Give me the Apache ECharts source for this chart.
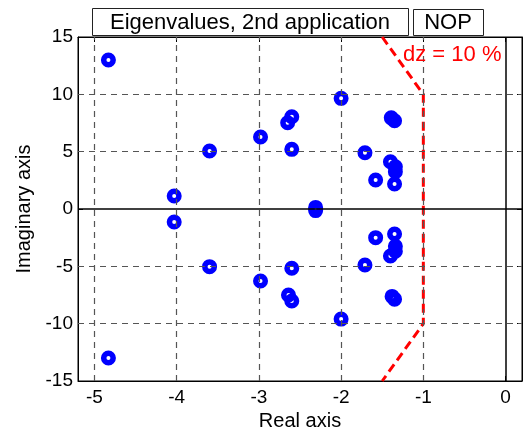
<!DOCTYPE html>
<html>
<head>
<meta charset="utf-8">
<script src="https://cdn.jsdelivr.net/npm/echarts@6/dist/echarts.min.js"></script>
<style>
html,body{margin:0;padding:0;background:#fff;}
#c{width:524px;height:428px;}
</style>
</head>
<body>
<div id="c"></div>
<script>
// Eigenvalues (real part, imaginary part)
const eigReal = [-4.83, -4.03, -3.60, -2.98, -2.60, -2.65, -2.60, -2.00, -1.39, -1.35, -1.71, -1.40, -1.34, -1.34, -1.35, -1.58, -2.31,
                 -4.83, -4.03, -3.60, -2.98, -2.60, -2.64, -2.60, -2.00, -1.38, -1.35, -1.71, -1.40, -1.34, -1.34, -1.35, -1.58, -2.31];
const eigImag = [13.0, 1.13, 5.06, 6.28, 8.05, 7.52, 5.20, 9.65, 7.95, 7.70, 4.91, 4.12, 3.69, 3.25, 2.18, 2.53, 0.14,
                 -13.0, -1.13, -5.03, -6.28, -5.17, -7.50, -8.02, -9.60, -7.62, -7.86, -4.88, -4.10, -3.68, -3.25, -2.18, -2.50, -0.14];
// 10 % damping boundary
const dzReal = [-1.5, -1, -1, -1.5];
const dzImag = [15, 10, -10, -15];
// ticks
const xTicks = [-5, -4, -3, -2, -1, 0];
const yTicks = [-15, -10, -5, 0, 5, 10, 15];

const FONT = '"Liberation Sans", Arial, sans-serif';
const chart = echarts.init(document.getElementById('c'), null, {renderer: 'canvas'});

const gridLines = [];
xTicks.forEach(v => { if (v !== 0) gridLines.push({xAxis: v}); });
yTicks.forEach(v => { if (v !== 0 && Math.abs(v) !== 15) gridLines.push({yAxis: v}); });

chart.setOption({
  animation: false,
  backgroundColor: '#fff',
  grid: {left: 78, right: 2, top: 37, bottom: 47, show: true, borderColor: '#000', borderWidth: 1,
         backgroundColor: 'transparent', containLabel: false, outerBoundsMode: 'none'},
  xAxis: [{
    type: 'value', min: -5.2, max: 0.2,
    name: 'Real axis', nameLocation: 'middle', nameGap: 28,
    nameTextStyle: {fontFamily: FONT, fontSize: 20, color: '#000'},
    axisLine: {show: true, onZero: false, lineStyle: {color: '#000'}},
    axisTick: {show: true, inside: true, length: 5, customValues: xTicks, lineStyle: {color: '#000'}},
    axisLabel: {customValues: xTicks, fontFamily: FONT, fontSize: 19, color: '#000', margin: 7},
    splitLine: {show: false}
  }, {
    type: 'value', min: -5.2, max: 0.2, position: 'top',
    axisLine: {show: true, onZero: false, lineStyle: {color: '#000'}},
    axisTick: {show: true, inside: true, length: 5, customValues: xTicks, lineStyle: {color: '#000'}},
    axisLabel: {show: false}, splitLine: {show: false}
  }],
  yAxis: [{
    type: 'value', min: -15, max: 15, interval: 5,
    name: 'Imaginary axis', nameLocation: 'middle', nameGap: 44,
    nameTextStyle: {fontFamily: FONT, fontSize: 20, color: '#000'},
    axisLine: {show: true, onZero: false, lineStyle: {color: '#000'}},
    axisTick: {show: true, inside: true, length: 5, lineStyle: {color: '#000'}},
    axisLabel: {fontFamily: FONT, fontSize: 19, color: '#000', margin: 5},
    splitLine: {show: false}
  }, {
    type: 'value', min: -15, max: 15, interval: 5, position: 'right',
    axisLine: {show: true, onZero: false, lineStyle: {color: '#000'}},
    axisTick: {show: true, inside: true, length: 5, lineStyle: {color: '#000'}},
    axisLabel: {show: false}, splitLine: {show: false}
  }],
  series: [
    {
      type: 'line', data: [], silent: true, z: 1,
      markLine: {
        silent: true, symbol: 'none', label: {show: false}, animation: false,
        lineStyle: {color: '#555', type: [6, 5], width: 1.2},
        emphasis: {disabled: true},
        data: gridLines
      }
    },
    {
      type: 'line', data: [], silent: true, z: 2,
      markLine: {
        silent: true, symbol: 'none', label: {show: false}, animation: false,
        lineStyle: {color: '#000', type: 'solid', width: 1.5},
        emphasis: {disabled: true},
        data: [{xAxis: 0}, {yAxis: 0}]
      }
    },
    {
      type: 'line', z: 3, silent: true,
      data: dzReal.map((x, i) => [x, dzImag[i]]),
      showSymbol: false, symbol: 'none',
      lineStyle: {color: '#ff0000', width: 3, type: [9, 5]}
    },
    {
      type: 'scatter', z: 4, silent: true,
      data: eigReal.map((x, i) => [x, eigImag[i]]),
      symbol: 'circle', symbolSize: 9.5,
      itemStyle: {color: 'rgba(0,0,0,0)', borderColor: '#0000ff', borderWidth: 5.5, opacity: 1}
    }
  ],
  graphic: [
    {type: 'rect', shape: {x: 92.5, y: 8.5, width: 316, height: 27}, style: {fill: '#fff', stroke: '#222', lineWidth: 1}, z: 10},
    {type: 'text', x: 250, y: 23, style: {text: 'Eigenvalues, 2nd application', font: '22px ' + FONT, fill: '#000', align: 'center', verticalAlign: 'middle'}, z: 11},
    {type: 'rect', shape: {x: 413.5, y: 9.5, width: 70, height: 26}, style: {fill: '#fff', stroke: '#222', lineWidth: 1}, z: 10},
    {type: 'text', x: 448, y: 23, style: {text: 'NOP', font: '22px ' + FONT, fill: '#000', align: 'center', verticalAlign: 'middle'}, z: 11},
    {type: 'text', x: 403, y: 55, style: {text: 'dz = 10 %', font: '22px ' + FONT, fill: '#ff0000', align: 'left', verticalAlign: 'middle'}, z: 11}
  ]
});
</script>
</body>
</html>
